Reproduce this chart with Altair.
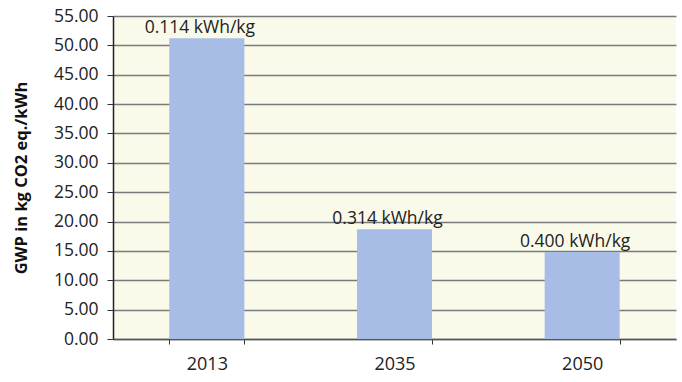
import altair as alt
import pandas as pd

years = ["2013", "2035", "2050"]
gwp = [51.2, 18.7, 14.8]
labels = ["0.114 kWh/kg", "0.314 kWh/kg", "0.400 kWh/kg"]
y_ticks = [0, 5, 10, 15, 20, 25, 30, 35, 40, 45, 50, 55]

df = pd.DataFrame({"year": years, "gwp": gwp, "label": labels})

FONT = "Open Sans"

x = alt.X("year:N", sort=years, title=None,
          scale=alt.Scale(paddingInner=0.6, paddingOuter=0.3),
          axis=alt.Axis(labelAngle=0, labelFontSize=18, labelColor="#222222",
                        labelFont=FONT, labelPadding=11, tickBand="extent",
                        tickSize=5, tickColor="#333333", domainColor="#555555",
                        domainWidth=1.5, grid=False))
y = alt.Y("gwp:Q", title="GWP in kg CO2 eq./kWh",
          scale=alt.Scale(domain=[0, 55], nice=False),
          axis=alt.Axis(values=y_ticks, tickCount=len(y_ticks), format=".2f",
                        labelFontSize=17.5, labelFont=FONT, labelColor="#222222",
                        labelPadding=9, tickSize=6, tickColor="#333333",
                        labelOverlap=False, labelBaseline="middle",
                        domainColor="#222222", domainWidth=1.5,
                        grid=True, gridColor="#7a7a7a", gridWidth=1.6,
                        titleFontSize=16.5, titleFont=FONT, titleFontWeight="bold",
                        titleColor="#111111", titlePadding=24))

bars = alt.Chart(df).mark_bar(color="#A7BDE6").encode(x=x, y=y)
text = alt.Chart(df).mark_text(baseline="bottom", dy=-1, dx=-7, fontSize=17.5,
                               font=FONT, color="#222222").encode(
    x=alt.X("year:N", sort=years), y="gwp:Q", text="label:N")

chart = (bars + text).properties(
    width=563, height=323,
    autosize=alt.AutoSizeParams(type="none"),
    padding={"left": 113, "top": 16, "right": 6, "bottom": 43},
    background="white",
).configure_view(fill="#FAFAEA", stroke=None)

chart.save("out.html", embed_options={"renderer": "svg", "actions": False})
